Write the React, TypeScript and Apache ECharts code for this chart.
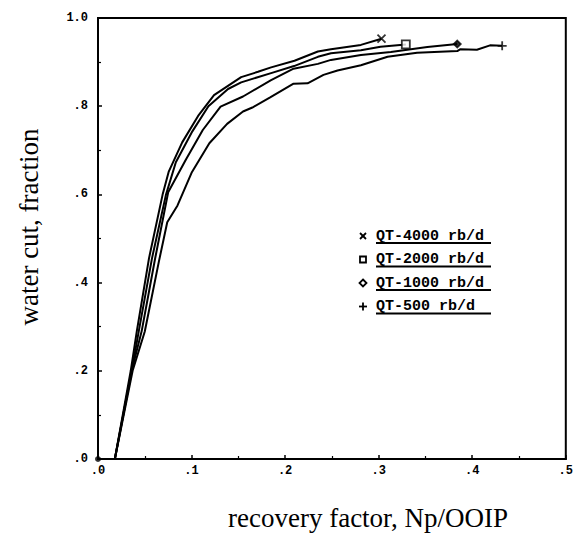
import React, { useEffect, useRef } from 'react';
import * as echarts from 'echarts';

const seriesNames = ['QT-4000 rb/d', 'QT-2000 rb/d', 'QT-1000 rb/d', 'QT-500 rb/d'];

const qt4000 = [[0, 0], [0.018, 0], [0.035, 0.2], [0.0415, 0.29], [0.0545, 0.455], [0.069, 0.599], [0.0755, 0.651], [0.09, 0.718], [0.107, 0.778], [0.124, 0.825], [0.153, 0.866], [0.171, 0.878], [0.185, 0.888], [0.21, 0.903], [0.235, 0.924], [0.249, 0.929], [0.281, 0.939], [0.303, 0.953]];
const qt2000 = [[0, 0], [0.018, 0], [0.036, 0.2], [0.0436, 0.29], [0.0577, 0.455], [0.0726, 0.599], [0.0832, 0.673], [0.1, 0.74], [0.118, 0.8], [0.139, 0.839], [0.153, 0.854], [0.185, 0.875], [0.2095, 0.891], [0.235, 0.912], [0.249, 0.92], [0.281, 0.927], [0.302, 0.935], [0.329, 0.94]];
const qt1000 = [[0, 0], [0.018, 0], [0.036, 0.2], [0.0467, 0.29], [0.061, 0.454], [0.075, 0.605], [0.094, 0.679], [0.112, 0.746], [0.131, 0.799], [0.155, 0.822], [0.185, 0.859], [0.209, 0.885], [0.235, 0.896], [0.249, 0.905], [0.281, 0.916], [0.313, 0.923], [0.352, 0.934], [0.384, 0.941]];
const qt500 = [[0, 0], [0.018, 0], [0.037, 0.2], [0.05, 0.289], [0.065, 0.447], [0.074, 0.537], [0.085, 0.575], [0.1, 0.649], [0.119, 0.716], [0.138, 0.76], [0.155, 0.788], [0.165, 0.797], [0.184, 0.82], [0.209, 0.851], [0.224, 0.852], [0.241, 0.871], [0.256, 0.881], [0.281, 0.893], [0.3095, 0.912], [0.341, 0.921], [0.384, 0.925], [0.387, 0.929], [0.405, 0.928], [0.419, 0.938], [0.432, 0.937]];

const allSeries = [qt4000, qt2000, qt1000, qt500];

const xTickLabels = ['.0', '.1', '.2', '.3', '.4', '.5'];
const yTickLabels = ['.0', '.2', '.4', '.6', '.8', '1.0'];

const X_CROSS = 'path://M0,0L10,10M10,0L0,10';
const PLUS = 'path://M5,0L5,10M0,5L10,5';
const endSymbols = [X_CROSS, 'rect', 'diamond', PLUS];
const endSizes = [8, 8, 7, 9];

const tickFont = {
  fontFamily: 'Liberation Mono',
  fontWeight: 'bold' as const,
  fontSize: 12,
  color: '#000',
};

export default function App() {
  const ref = useRef<HTMLDivElement>(null);
  useEffect(() => {
    if (!ref.current) return;
    const chart = echarts.init(ref.current, undefined, { renderer: 'svg' });

    const lineSeries = allSeries.map((d, i) => ({
      name: seriesNames[i],
      type: 'line',
      data: d,
      symbol: 'none',
      lineStyle: { color: '#000', width: 2 },
      z: 3,
    }));
    const endSeries = allSeries.map((d, i) => ({
      name: seriesNames[i] + ' end',
      type: 'scatter',
      data: [d[d.length - 1]],
      symbol: endSymbols[i],
      symbolSize: endSizes[i],
      itemStyle: {
        color: i === 1 ? '#fff' : i === 2 ? '#000' : 'none',
        borderColor: '#000',
        borderWidth: 1.8,
      },
      z: 4,
    }));
    const originSeries = {
      name: 'origin',
      type: 'scatter',
      data: [qt4000[0]],
      symbol: 'circle',
      symbolSize: 6,
      itemStyle: { color: '#000' },
      z: 5,
    };

    const legendBaseX = 363;
    const legendTextX = 376;
    const legendY0 = 236;
    const legendStep = 23.5;
    const legendGraphics: any[] = [];
    seriesNames.forEach((name, i) => {
      const y = legendY0 + i * legendStep;
      let marker: any;
      if (i === 0) {
        marker = {
          type: 'group',
          children: [
            { type: 'line', shape: { x1: legendBaseX - 3, y1: y - 3, x2: legendBaseX + 3, y2: y + 3 }, style: { stroke: '#000', lineWidth: 1.8 } },
            { type: 'line', shape: { x1: legendBaseX + 3, y1: y - 3, x2: legendBaseX - 3, y2: y + 3 }, style: { stroke: '#000', lineWidth: 1.8 } },
          ],
        };
      } else if (i === 1) {
        marker = { type: 'rect', shape: { x: legendBaseX - 3, y: y - 3, width: 6, height: 6 }, style: { fill: '#fff', stroke: '#000', lineWidth: 1.8 } };
      } else if (i === 2) {
        marker = { type: 'polygon', shape: { points: [[legendBaseX, y - 3.5], [legendBaseX + 3.5, y], [legendBaseX, y + 3.5], [legendBaseX - 3.5, y]] }, style: { fill: '#fff', stroke: '#000', lineWidth: 1.8 } };
      } else {
        marker = {
          type: 'group',
          children: [
            { type: 'line', shape: { x1: legendBaseX - 4, y1: y, x2: legendBaseX + 4, y2: y }, style: { stroke: '#000', lineWidth: 1.8 } },
            { type: 'line', shape: { x1: legendBaseX, y1: y - 4, x2: legendBaseX, y2: y + 4 }, style: { stroke: '#000', lineWidth: 1.8 } },
          ],
        };
      }
      legendGraphics.push(marker);
      legendGraphics.push({
        type: 'text',
        x: legendTextX,
        y: y,
        style: {
          text: name,
          font: 'bold 15px "Liberation Mono"',
          fill: '#000',
          verticalAlign: 'middle',
          align: 'left',
        },
      });
      legendGraphics.push({
        type: 'line',
        shape: { x1: legendTextX, y1: y + 7, x2: legendTextX + 115, y2: y + 7 },
        style: { stroke: '#000', lineWidth: 1.8 },
      });
    });

    chart.setOption({
      animation: false,
      backgroundColor: '#fff',
      grid: {
        left: 98,
        right: 6,
        top: 18,
        bottom: 83,
        show: true,
        borderColor: '#000',
        borderWidth: 2,
        backgroundColor: 'transparent',
      },
      xAxis: {
        type: 'value',
        min: 0,
        max: 0.5,
        interval: 0.1,
        axisLine: { show: true, onZero: false, lineStyle: { color: '#000', width: 2 } },
        axisTick: { show: true, inside: true, length: 4, lineStyle: { color: '#000', width: 1.5 } },
        minorTick: { show: true, splitNumber: 2, length: 3, lineStyle: { color: '#000', width: 1.2 } },
        splitLine: { show: false },
        axisLabel: {
          ...tickFont,
          margin: 6,
          formatter: (v: number) => xTickLabels[Math.round(v * 10)] ?? '',
        },
      },
      yAxis: {
        type: 'value',
        min: 0,
        max: 1,
        interval: 0.2,
        axisLine: { show: true, onZero: false, lineStyle: { color: '#000', width: 2 } },
        axisTick: { show: true, inside: true, length: 4, lineStyle: { color: '#000', width: 1.5 } },
        minorTick: { show: true, splitNumber: 2, length: 3, lineStyle: { color: '#000', width: 1.2 } },
        splitLine: { show: false },
        axisLabel: {
          ...tickFont,
          margin: 10,
          formatter: (v: number) => yTickLabels[Math.round(v * 5)] ?? '',
        },
      },
      series: [...lineSeries, ...endSeries, originSeries],
      graphic: [
        ...legendGraphics,
        {
          type: 'text',
          x: 29,
          y: 227,
          rotation: Math.PI / 2,
          style: {
            text: 'water cut, fraction',
            font: '27px "Liberation Serif"',
            fill: '#000',
            align: 'center',
            verticalAlign: 'middle',
          },
        },
        {
          type: 'text',
          x: 368,
          y: 518,
          style: {
            text: 'recovery factor, Np/OOIP',
            font: '27px "Liberation Serif"',
            fill: '#000',
            align: 'center',
            verticalAlign: 'middle',
          },
        },
      ],
    });
    return () => chart.dispose();
  }, []);
  return (
    <div
      ref={ref}
      style={{ position: 'fixed', left: 0, top: 0, width: 576, height: 542, background: '#fff' }}
    />
  );
}
